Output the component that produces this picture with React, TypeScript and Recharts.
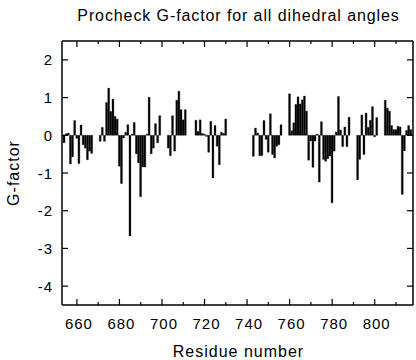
import React from 'react';
import { BarChart, Bar, XAxis, YAxis } from 'recharts';

// Segment start residues and G-factor values (one value per residue)
const segmentStarts = [654, 671, 703, 716, 743, 760, 792, 805];
const seg1 = [-0.2, 0.04, 0.06, -0.76, -0.57, 0.39, -0.08, -0.75, 0.27, -0.25, -0.34, -0.65, -0.42, -0.48];
const seg2 = [-0.16, 0.21, -0.16, 0.87, 1.25, 0.63, 0.96, 0.5, 0.43, -0.82, -1.28, -0.07, 0.08, 0.28, -2.67, 0.03, 0.34, -0.49, -0.73, -1.63, -0.84, -0.84, 0.03, 1.01, -0.49, -0.34, 0.31, -0.2, 0.52];
const seg3 = [-0.34, -0.54, 0.52, -0.42, 0.93, 1.17, 0.68, 0.41, 0.68];
const seg4 = [0.4, 0.1, 0.41, 0.05, 0.03, -0.03, -0.45, 0.37, -1.13, 0.26, -0.29, -0.78, 0.08, 0.05, 0.43];
const seg5 = [-0.56, 0.19, 0.06, -0.54, -0.54, 0.39, -0.11, -0.45, 0.57, -0.51, -0.6, -0.29, -0.25, 0.28];
const seg6 = [1.1, 0.12, 0.33, 0.82, 1.02, 0.83, 0.94, 1.04, 0.64, -0.66, -0.15, -0.85, -0.15, 0.03, -1.24, 0.36, -0.64, -0.69, -0.62, -0.55, -1.79, -0.42, 0.09, 1.03, 0.14, -0.3, 0.22, -0.3, 0.48];
const seg7 = [-1.18, -0.64, 0.54, -0.51, 0.59, 0.21, 0.4, 0.76, -0.04, 0.47];
const seg8 = [0.93, 0.72, 0.64, 0.26, 0.15, 0.15, 0.24, 0.22, -1.57, -0.41, 0.13, 0.26, 0.15];

const segments = [seg1, seg2, seg3, seg4, seg5, seg6, seg7, seg8];

const xTicks = [660, 670, 680, 690, 700, 710, 720, 730, 740, 750, 760, 770, 780, 790, 800, 810];
const yTicks = [-4, -3, -2, -1, 0, 1, 2];
const xDomain = [653, 818];
const yDomain = [-4.5, 2.5];

const title = 'Procheck G-factor for all dihedral angles';
const xLabel = 'Residue number';
const yLabel = 'G-factor';

const data: { residue: number; g: number }[] = [];
segments.forEach((vals, i) => {
  vals.forEach((v, j) => data.push({ residue: segmentStarts[i] + j, g: v }));
});

const FONT = '"Liberation Sans", Arial, Helvetica, sans-serif';

const BottomTick = (props: any) => {
  const { x, y, payload } = props;
  const v = payload.value;
  const major = v % 20 === 0;
  return (
    <g>
      <line x1={x} y1={y} x2={x} y2={y - (major ? 6 : 3)} stroke="#000" strokeWidth={1.2} />
      {major && (
        <text x={x + 2} y={y + 24} textAnchor="middle" fontFamily={FONT} fontSize={15} letterSpacing={1} fill="#000">
          {v}
        </text>
      )}
    </g>
  );
};

const TopTick = (props: any) => {
  const { x, y, payload } = props;
  const major = payload.value % 20 === 0;
  return <line x1={x} y1={y} x2={x} y2={y + (major ? 6 : 3)} stroke="#000" strokeWidth={1.2} />;
};

const LeftTick = (props: any) => {
  const { x, y, payload } = props;
  return (
    <g>
      <line x1={x} y1={y} x2={x + 6} y2={y} stroke="#000" strokeWidth={1.2} />
      <text x={x - 9} y={y + 5.5} textAnchor="end" fontFamily={FONT} fontSize={15} letterSpacing={1} fill="#000">
        {payload.value}
      </text>
    </g>
  );
};

const RightTick = (props: any) => {
  const { x, y } = props;
  return <line x1={x} y1={y} x2={x - 6} y2={y} stroke="#000" strokeWidth={1.2} />;
};

export default function App() {
  const axisLine = { stroke: '#000', strokeWidth: 1.5 };
  return (
    <div style={{ position: 'absolute', left: 0, top: 0, width: 416, height: 360, background: '#fff' }}>
      <BarChart
        width={416}
        height={360}
        data={data}
        margin={{ top: 40, right: 2, bottom: 0, left: 0 }}
        barCategoryGap={0}
      >
        <XAxis
          dataKey="residue"
          type="number"
          domain={xDomain}
          allowDataOverflow
          ticks={xTicks}
          interval={0}
          height={55}
          tickSize={0}
          tickMargin={0}
          axisLine={axisLine}
          tick={<BottomTick />}
        />
        <XAxis
          xAxisId="top"
          orientation="top"
          dataKey="residue"
          type="number"
          domain={xDomain}
          allowDataOverflow
          ticks={xTicks}
          interval={0}
          height={1}
          tickSize={0}
          tickMargin={0}
          axisLine={axisLine}
          tick={<TopTick />}
        />
        <YAxis
          type="number"
          domain={yDomain}
          allowDataOverflow
          ticks={yTicks}
          interval={0}
          width={62}
          tickSize={0}
          tickMargin={0}
          axisLine={axisLine}
          tick={<LeftTick />}
        />
        <YAxis
          yAxisId="right"
          orientation="right"
          type="number"
          domain={yDomain}
          allowDataOverflow
          ticks={yTicks}
          interval={0}
          width={1}
          tickSize={0}
          tickMargin={0}
          axisLine={axisLine}
          tick={<RightTick />}
        />
        <Bar dataKey="g" fill="#000" stroke="#000" strokeWidth={0.3} barSize={2.2} isAnimationActive={false} />
        <Bar
          dataKey="g"
          xAxisId="top"
          yAxisId="right"
          fill="none"
          stroke="none"
          barSize={2.2}
          isAnimationActive={false}
        />
      </BarChart>
      <svg
        width={416}
        height={360}
        style={{ position: 'absolute', left: 0, top: 0, pointerEvents: 'none' }}
      >
        <text x={238.5} y={21} textAnchor="middle" fontFamily={FONT} fontSize={16} letterSpacing={0.9} fill="#000">
          {title}
        </text>
        <text x={238.5} y={357} textAnchor="middle" fontFamily={FONT} fontSize={16} letterSpacing={1} fill="#000">
          {xLabel}
        </text>
        <text
          x={0}
          y={0}
          transform="translate(19,173) rotate(-90)"
          textAnchor="middle"
          fontFamily={FONT}
          fontSize={16}
          letterSpacing={1}
          fill="#000"
        >
          {yLabel}
        </text>
      </svg>
    </div>
  );
}
